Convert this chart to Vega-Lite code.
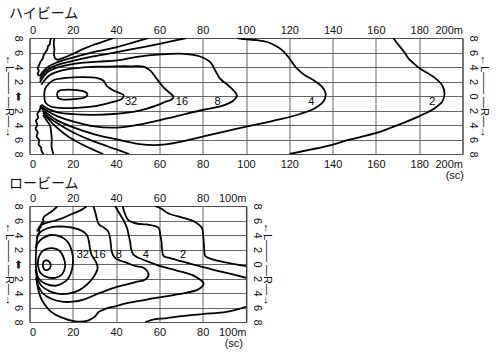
{
"$schema": "https://vega.github.io/schema/vega-lite/v6.json",
"padding": {"left": 2.5, "top": 6, "right": 0, "bottom": 0},
"background": "white",
"spacing": -5,
"config": {
 "font": "Liberation Sans",
 "view": {"stroke": "#222", "strokeWidth": 1},
 "axis": {"labelFont": "Liberation Sans", "labelFontSize": 11, "labelColor": "#111", "titleFont": "Liberation Sans", "titleFontSize": 11, "titleFontWeight": "normal", "titleColor": "#111", "ticks": false, "domain": false, "gridColor": "#555", "gridOpacity": 1, "gridWidth": 0.9},
 "title": {"font": "Noto Sans CJK JP", "fontSize": 14, "fontWeight": "normal", "anchor": "start", "frame": "group", "color": "#111"}
},
"datasets": {
"hi": [
{"c":"A","i":0,"x":11.5,"y":8},{"c":"A","i":1,"x":11.2,"y":7.2},{"c":"A","i":2,"x":11.5,"y":6.4},{"c":"A","i":3,"x":11.3,"y":5.8},{"c":"A","i":4,"x":11.8,"y":5.2},{"c":"A","i":5,"x":13,"y":5.0},{"c":"A","i":6,"x":16,"y":5.3},{"c":"A","i":7,"x":20,"y":5.8},{"c":"A","i":8,"x":25,"y":6.5},{"c":"A","i":9,"x":30,"y":7.1},{"c":"A","i":10,"x":35,"y":7.6},{"c":"A","i":11,"x":39,"y":8},
{"c":"B","i":0,"x":10,"y":8},{"c":"B","i":1,"x":9.6,"y":7.6},{"c":"B","i":2,"x":9.3,"y":7.1},{"c":"B","i":3,"x":8.6,"y":6.9},{"c":"B","i":4,"x":8.2,"y":6.4},{"c":"B","i":5,"x":7.5,"y":6.1},{"c":"B","i":6,"x":6.5,"y":5.6},{"c":"B","i":7,"x":6.0,"y":5.1},{"c":"B","i":8,"x":5.0,"y":4.7},{"c":"B","i":9,"x":4.4,"y":4.2},{"c":"B","i":10,"x":3.7,"y":3.9},{"c":"B","i":11,"x":4.3,"y":3.5},{"c":"B","i":12,"x":3.8,"y":3.1},{"c":"B","i":13,"x":4.6,"y":2.8},{"c":"B","i":14,"x":5.8,"y":3.2},{"c":"B","i":15,"x":8,"y":3.9},{"c":"B","i":16,"x":12,"y":4.55},{"c":"B","i":17,"x":20,"y":5.3},{"c":"B","i":18,"x":30,"y":6.1},{"c":"B","i":19,"x":40.4,"y":6.74},{"c":"B","i":20,"x":48,"y":7.4},{"c":"B","i":21,"x":55,"y":8},
{"c":"C","i":0,"x":4.8,"y":2.3},{"c":"C","i":1,"x":6,"y":2.9},{"c":"C","i":2,"x":8,"y":3.55},{"c":"C","i":3,"x":12,"y":4.2},{"c":"C","i":4,"x":20,"y":4.85},{"c":"C","i":5,"x":30,"y":5.5},{"c":"C","i":6,"x":40.4,"y":6.05},{"c":"C","i":7,"x":50,"y":6.6},{"c":"C","i":8,"x":60,"y":7.2},{"c":"C","i":9,"x":72.5,"y":8},
{"c":"c8","i":0,"x":4.8,"y":1.9},{"c":"c8","i":1,"x":6.5,"y":2.7},{"c":"c8","i":2,"x":8.5,"y":3.35},{"c":"c8","i":3,"x":12,"y":3.85},{"c":"c8","i":4,"x":18,"y":4.3},{"c":"c8","i":5,"x":25,"y":4.6},{"c":"c8","i":6,"x":32,"y":4.75},{"c":"c8","i":7,"x":40.4,"y":4.9},{"c":"c8","i":8,"x":49.6,"y":5.4},{"c":"c8","i":9,"x":60.4,"y":5.73},{"c":"c8","i":10,"x":71.2,"y":5.82},{"c":"c8","i":11,"x":78.8,"y":5.45},{"c":"c8","i":12,"x":83.5,"y":4.67},{"c":"c8","i":13,"x":85.8,"y":3.52},{"c":"c8","i":14,"x":88.1,"y":2.37},{"c":"c8","i":15,"x":92.7,"y":1.22},{"c":"c8","i":16,"x":95.8,"y":0.07},{"c":"c8","i":17,"x":94.2,"y":-0.62},{"c":"c8","i":18,"x":89.6,"y":-1.3},{"c":"c8","i":19,"x":78.8,"y":-2.0},{"c":"c8","i":20,"x":63.5,"y":-3.1},{"c":"c8","i":21,"x":49.6,"y":-4.0},{"c":"c8","i":22,"x":40.4,"y":-4.35},{"c":"c8","i":23,"x":30,"y":-4.2},{"c":"c8","i":24,"x":20,"y":-3.5},{"c":"c8","i":25,"x":13,"y":-2.8},{"c":"c8","i":26,"x":9,"y":-2.2},{"c":"c8","i":27,"x":6,"y":-1.6},{"c":"c8","i":28,"x":4.8,"y":-1.3},
{"c":"c16","i":0,"x":5.5,"y":1.55},{"c":"c16","i":1,"x":7,"y":2.2},{"c":"c16","i":2,"x":9,"y":2.8},{"c":"c16","i":3,"x":12,"y":3.25},{"c":"c16","i":4,"x":18,"y":3.7},{"c":"c16","i":5,"x":25,"y":3.95},{"c":"c16","i":6,"x":32,"y":4.05},{"c":"c16","i":7,"x":40.4,"y":4.1},{"c":"c16","i":8,"x":47,"y":4.1},{"c":"c16","i":9,"x":52.7,"y":4.05},{"c":"c16","i":10,"x":55.8,"y":3.5},{"c":"c16","i":11,"x":58.8,"y":2.37},{"c":"c16","i":12,"x":61.9,"y":1.2},{"c":"c16","i":13,"x":64.5,"y":0.5},{"c":"c16","i":14,"x":66.5,"y":-0.1},{"c":"c16","i":15,"x":65.8,"y":-0.45},{"c":"c16","i":16,"x":62,"y":-0.9},{"c":"c16","i":17,"x":58.8,"y":-1.3},{"c":"c16","i":18,"x":49.6,"y":-2.1},{"c":"c16","i":19,"x":40.4,"y":-2.45},{"c":"c16","i":20,"x":30,"y":-2.6},{"c":"c16","i":21,"x":20,"y":-2.5},{"c":"c16","i":22,"x":13,"y":-2.25},{"c":"c16","i":23,"x":9,"y":-1.85},{"c":"c16","i":24,"x":6.5,"y":-1.4},{"c":"c16","i":25,"x":5.5,"y":-1.15},
{"c":"c32","i":0,"x":6.8,"y":0.1},{"c":"c32","i":1,"x":7.2,"y":1.0},{"c":"c32","i":2,"x":8.6,"y":1.6},{"c":"c32","i":3,"x":11.2,"y":2.2},{"c":"c32","i":4,"x":17,"y":2.5},{"c":"c32","i":5,"x":23.5,"y":2.6},{"c":"c32","i":6,"x":31,"y":2.5},{"c":"c32","i":7,"x":34.2,"y":2.1},{"c":"c32","i":8,"x":35.8,"y":1.35},{"c":"c32","i":9,"x":38.8,"y":0.75},{"c":"c32","i":10,"x":43.5,"y":0.07},{"c":"c32","i":11,"x":42.7,"y":-0.4},{"c":"c32","i":12,"x":38.1,"y":-0.85},{"c":"c32","i":13,"x":31.2,"y":-1.35},{"c":"c32","i":14,"x":23.5,"y":-1.6},{"c":"c32","i":15,"x":14.2,"y":-1.65},{"c":"c32","i":16,"x":9.8,"y":-1.45},{"c":"c32","i":17,"x":7.5,"y":-0.95},{"c":"c32","i":18,"x":6.8,"y":0.1},
{"c":"ov","i":0,"x":12.7,"y":0.3},{"c":"ov","i":1,"x":13.5,"y":0.7},{"c":"ov","i":2,"x":16,"y":0.85},{"c":"ov","i":3,"x":22,"y":0.8},{"c":"ov","i":4,"x":25.5,"y":0.6},{"c":"ov","i":5,"x":26.8,"y":0.2},{"c":"ov","i":6,"x":25.5,"y":-0.2},{"c":"ov","i":7,"x":22,"y":-0.4},{"c":"ov","i":8,"x":16,"y":-0.5},{"c":"ov","i":9,"x":13.3,"y":-0.3},{"c":"ov","i":10,"x":12.7,"y":0.3},
{"c":"c4","i":0,"x":96,"y":8},{"c":"c4","i":1,"x":100.6,"y":7.8},{"c":"c4","i":2,"x":105.2,"y":7.7},{"c":"c4","i":3,"x":109.8,"y":7.45},{"c":"c4","i":4,"x":114.5,"y":6.8},{"c":"c4","i":5,"x":117.5,"y":6.1},{"c":"c4","i":6,"x":120,"y":5.2},{"c":"c4","i":7,"x":122.9,"y":4.0},{"c":"c4","i":8,"x":126.8,"y":2.95},{"c":"c4","i":9,"x":131.4,"y":2.15},{"c":"c4","i":10,"x":135.2,"y":1.25},{"c":"c4","i":11,"x":136.8,"y":0.3},{"c":"c4","i":12,"x":135.7,"y":-0.8},{"c":"c4","i":13,"x":131.4,"y":-1.75},{"c":"c4","i":14,"x":125.2,"y":-2.45},{"c":"c4","i":15,"x":116,"y":-3.2},{"c":"c4","i":16,"x":106.8,"y":-3.8},{"c":"c4","i":17,"x":100.6,"y":-4.2},{"c":"c4","i":18,"x":90,"y":-4.9},{"c":"c4","i":19,"x":80,"y":-5.6},{"c":"c4","i":20,"x":70,"y":-6.3},{"c":"c4","i":21,"x":60,"y":-6.75},{"c":"c4","i":22,"x":50,"y":-6.6},{"c":"c4","i":23,"x":40.4,"y":-6.0},{"c":"c4","i":24,"x":30,"y":-5.3},{"c":"c4","i":25,"x":20,"y":-4.3},{"c":"c4","i":26,"x":13,"y":-3.4},{"c":"c4","i":27,"x":9,"y":-2.6},{"c":"c4","i":28,"x":6.5,"y":-1.95},{"c":"c4","i":29,"x":5.3,"y":-1.6},
{"c":"D","i":0,"x":6,"y":-2.0},{"c":"D","i":1,"x":8,"y":-2.7},{"c":"D","i":2,"x":12,"y":-3.6},{"c":"D","i":3,"x":20,"y":-5.0},{"c":"D","i":4,"x":30,"y":-6.3},{"c":"D","i":5,"x":40.4,"y":-7.4},{"c":"D","i":6,"x":46,"y":-8},
{"c":"E","i":0,"x":6.3,"y":-2.3},{"c":"E","i":1,"x":8.5,"y":-3.1},{"c":"E","i":2,"x":12,"y":-4.2},{"c":"E","i":3,"x":17,"y":-5.4},{"c":"E","i":4,"x":22,"y":-6.3},{"c":"E","i":5,"x":28,"y":-7.2},{"c":"E","i":6,"x":34,"y":-8},
{"c":"Fr","i":0,"x":6.2,"y":-2.6},{"c":"Fr","i":1,"x":8,"y":-3.4},{"c":"Fr","i":2,"x":9.5,"y":-4.1},{"c":"Fr","i":3,"x":10,"y":-5.0},{"c":"Fr","i":4,"x":10.3,"y":-6.0},{"c":"Fr","i":5,"x":10.2,"y":-7},{"c":"Fr","i":6,"x":11,"y":-8},
{"c":"Jl","i":0,"x":5.2,"y":-1.5},{"c":"Jl","i":1,"x":4.6,"y":-2.0},{"c":"Jl","i":2,"x":3.6,"y":-2.5},{"c":"Jl","i":3,"x":4.0,"y":-3.0},{"c":"Jl","i":4,"x":3.0,"y":-3.4},{"c":"Jl","i":5,"x":3.6,"y":-4.0},{"c":"Jl","i":6,"x":2.8,"y":-4.5},{"c":"Jl","i":7,"x":3.8,"y":-5.0},{"c":"Jl","i":8,"x":3.3,"y":-5.6},{"c":"Jl","i":9,"x":4.5,"y":-6.1},{"c":"Jl","i":10,"x":4.2,"y":-6.7},{"c":"Jl","i":11,"x":5.3,"y":-7.1},{"c":"Jl","i":12,"x":5.6,"y":-7.6},{"c":"Jl","i":13,"x":6.5,"y":-8},
{"c":"c2","i":0,"x":168,"y":8},{"c":"c2","i":1,"x":170,"y":7.2},{"c":"c2","i":2,"x":173,"y":6.1},{"c":"c2","i":3,"x":175,"y":5.2},{"c":"c2","i":4,"x":177.5,"y":4.5},{"c":"c2","i":5,"x":180.3,"y":3.8},{"c":"c2","i":6,"x":186.8,"y":2.6},{"c":"c2","i":7,"x":190.6,"y":1.5},{"c":"c2","i":8,"x":191.7,"y":0.3},{"c":"c2","i":9,"x":190.6,"y":-0.8},{"c":"c2","i":10,"x":186.8,"y":-1.75},{"c":"c2","i":11,"x":180.6,"y":-2.7},{"c":"c2","i":12,"x":169.8,"y":-4.05},{"c":"c2","i":13,"x":160.3,"y":-5.1},{"c":"c2","i":14,"x":146.8,"y":-6.1},{"c":"c2","i":15,"x":140.2,"y":-6.7},{"c":"c2","i":16,"x":129.8,"y":-7.4},{"c":"c2","i":17,"x":120,"y":-8}
],
"hiLab": [
{"t":"32","x":46.9,"y":-0.8},{"t":"16","x":70.4,"y":-0.8},{"t":"8","x":86.9,"y":-0.8},{"t":"4","x":130.2,"y":-0.8},{"t":"2","x":186,"y":-0.8}
],
"lo": [
{"c":"S","i":0,"x":6.5,"y":0.4},{"c":"S","i":1,"x":8,"y":0.5},{"c":"S","i":2,"x":9.4,"y":0.2},{"c":"S","i":3,"x":9.8,"y":-0.3},{"c":"S","i":4,"x":8.8,"y":-0.75},{"c":"S","i":5,"x":7,"y":-0.8},{"c":"S","i":6,"x":6.2,"y":-0.3},{"c":"S","i":7,"x":6.5,"y":0.4},
{"c":"L64","i":0,"x":4.2,"y":0.9},{"c":"L64","i":1,"x":5.8,"y":1.75},{"c":"L64","i":2,"x":8,"y":2.1},{"c":"L64","i":3,"x":10.4,"y":2.2},{"c":"L64","i":4,"x":13,"y":2.0},{"c":"L64","i":5,"x":14.5,"y":1.6},{"c":"L64","i":6,"x":15.8,"y":0.85},{"c":"L64","i":7,"x":16.5,"y":-0.3},{"c":"L64","i":8,"x":15,"y":-1.45},{"c":"L64","i":9,"x":11.9,"y":-1.9},{"c":"L64","i":10,"x":8.1,"y":-1.8},{"c":"L64","i":11,"x":5,"y":-1.2},{"c":"L64","i":12,"x":3.9,"y":0},{"c":"L64","i":13,"x":4.2,"y":0.9},
{"c":"L32","i":0,"x":3.3,"y":2.6},{"c":"L32","i":1,"x":5,"y":3.3},{"c":"L32","i":2,"x":7.3,"y":3.75},{"c":"L32","i":3,"x":10,"y":4.0},{"c":"L32","i":4,"x":13,"y":3.9},{"c":"L32","i":5,"x":16,"y":3.5},{"c":"L32","i":6,"x":18,"y":2.9},{"c":"L32","i":7,"x":19.2,"y":2.1},{"c":"L32","i":8,"x":20,"y":1.1},{"c":"L32","i":9,"x":20,"y":-0.1},{"c":"L32","i":10,"x":19.2,"y":-1.2},{"c":"L32","i":11,"x":17.6,"y":-2.1},{"c":"L32","i":12,"x":15,"y":-2.7},{"c":"L32","i":13,"x":11.9,"y":-3.0},{"c":"L32","i":14,"x":7.3,"y":-2.7},{"c":"L32","i":15,"x":4.2,"y":-2.0},{"c":"L32","i":16,"x":3.1,"y":-0.8},{"c":"L32","i":17,"x":2.9,"y":0.6},{"c":"L32","i":18,"x":3.0,"y":1.8},{"c":"L32","i":19,"x":3.3,"y":2.6},
{"c":"L16","i":0,"x":3.3,"y":3.6},{"c":"L16","i":1,"x":5,"y":4.4},{"c":"L16","i":2,"x":8,"y":4.9},{"c":"L16","i":3,"x":12,"y":5.15},{"c":"L16","i":4,"x":16,"y":5.15},{"c":"L16","i":5,"x":20,"y":5.0},{"c":"L16","i":6,"x":24,"y":4.6},{"c":"L16","i":7,"x":26.5,"y":4.0},{"c":"L16","i":8,"x":27.5,"y":3.0},{"c":"L16","i":9,"x":28,"y":2.0},{"c":"L16","i":10,"x":28.8,"y":1.2},{"c":"L16","i":11,"x":30.5,"y":0.4},{"c":"L16","i":12,"x":31.5,"y":-0.5},{"c":"L16","i":13,"x":30,"y":-1.6},{"c":"L16","i":14,"x":27,"y":-2.7},{"c":"L16","i":15,"x":23,"y":-3.6},{"c":"L16","i":16,"x":18,"y":-4.1},{"c":"L16","i":17,"x":13,"y":-4.1},{"c":"L16","i":18,"x":9,"y":-3.7},{"c":"L16","i":19,"x":5.5,"y":-3.0},{"c":"L16","i":20,"x":3.6,"y":-2.0},{"c":"L16","i":21,"x":2.8,"y":-0.8},
{"c":"L8a","i":0,"x":3.5,"y":4.5},{"c":"L8a","i":1,"x":5,"y":5.3},{"c":"L8a","i":2,"x":8.1,"y":5.7},{"c":"L8a","i":3,"x":12,"y":6.0},{"c":"L8a","i":4,"x":15,"y":6.3},{"c":"L8a","i":5,"x":19.6,"y":6.9},{"c":"L8a","i":6,"x":24.2,"y":7.5},{"c":"L8a","i":7,"x":26.5,"y":8},
{"c":"L8","i":0,"x":29.5,"y":8},{"c":"L8","i":1,"x":30.5,"y":7.0},{"c":"L8","i":2,"x":31.3,"y":6.0},{"c":"L8","i":3,"x":32.3,"y":5.4},{"c":"L8","i":4,"x":34.5,"y":5.0},{"c":"L8","i":5,"x":36.3,"y":4.5},{"c":"L8","i":6,"x":37.2,"y":3.6},{"c":"L8","i":7,"x":37.6,"y":2.6},{"c":"L8","i":8,"x":38,"y":1.7},{"c":"L8","i":9,"x":39.3,"y":0.9},{"c":"L8","i":10,"x":42,"y":0.45},{"c":"L8","i":11,"x":45,"y":0.16},{"c":"L8","i":12,"x":49,"y":-0.3},{"c":"L8","i":13,"x":52.7,"y":-0.53},{"c":"L8","i":14,"x":55,"y":-1.45},{"c":"L8","i":15,"x":53.5,"y":-2.14},{"c":"L8","i":16,"x":49,"y":-2.5},{"c":"L8","i":17,"x":45,"y":-2.8},{"c":"L8","i":18,"x":40,"y":-3.2},{"c":"L8","i":19,"x":35,"y":-3.7},{"c":"L8","i":20,"x":30,"y":-4.3},{"c":"L8","i":21,"x":25,"y":-4.9},{"c":"L8","i":22,"x":20,"y":-5.2},{"c":"L8","i":23,"x":15,"y":-5.2},{"c":"L8","i":24,"x":10,"y":-4.8},{"c":"L8","i":25,"x":6,"y":-4.0},{"c":"L8","i":26,"x":4,"y":-3.0},{"c":"L8","i":27,"x":3,"y":-1.8},
{"c":"L4","i":0,"x":39.5,"y":8},{"c":"L4","i":1,"x":41.5,"y":7.0},{"c":"L4","i":2,"x":43.5,"y":6.0},{"c":"L4","i":3,"x":45,"y":5.0},{"c":"L4","i":4,"x":45.8,"y":4.0},{"c":"L4","i":5,"x":46.5,"y":3.0},{"c":"L4","i":6,"x":47,"y":2.0},{"c":"L4","i":7,"x":48,"y":1.3},{"c":"L4","i":8,"x":50,"y":0.9},{"c":"L4","i":9,"x":54.2,"y":0.4},{"c":"L4","i":10,"x":60.4,"y":-0.3},{"c":"L4","i":11,"x":68,"y":-0.9},{"c":"L4","i":12,"x":75.8,"y":-1.6},{"c":"L4","i":13,"x":80.4,"y":-2.7},{"c":"L4","i":14,"x":78,"y":-3.5},{"c":"L4","i":15,"x":68,"y":-4.2},{"c":"L4","i":16,"x":54.2,"y":-4.9},{"c":"L4","i":17,"x":45,"y":-5.4},{"c":"L4","i":18,"x":40,"y":-5.8},{"c":"L4","i":19,"x":35,"y":-6.2},{"c":"L4","i":20,"x":32,"y":-6.6},{"c":"L4","i":21,"x":30,"y":-7.3},{"c":"L4","i":22,"x":27,"y":-7.8},{"c":"L4","i":23,"x":21,"y":-7.9},{"c":"L4","i":24,"x":15,"y":-7.4},{"c":"L4","i":25,"x":10,"y":-6.6},{"c":"L4","i":26,"x":7,"y":-5.6},{"c":"L4","i":27,"x":5,"y":-4.5},{"c":"L4","i":28,"x":3.8,"y":-3.2},{"c":"L4","i":29,"x":3.2,"y":-2.0},
{"c":"L2","i":0,"x":43,"y":8},{"c":"L2","i":1,"x":44,"y":7.0},{"c":"L2","i":2,"x":45.5,"y":6.1},{"c":"L2","i":3,"x":48,"y":5.7},{"c":"L2","i":4,"x":50,"y":5.55},{"c":"L2","i":5,"x":54.2,"y":5.45},{"c":"L2","i":6,"x":59.6,"y":5.0},{"c":"L2","i":7,"x":60.4,"y":4.0},{"c":"L2","i":8,"x":61,"y":3.0},{"c":"L2","i":9,"x":61.2,"y":2.0},{"c":"L2","i":10,"x":62,"y":1.1},{"c":"L2","i":11,"x":65,"y":0.8},{"c":"L2","i":12,"x":68.1,"y":0.55},{"c":"L2","i":13,"x":75.8,"y":-0.1},{"c":"L2","i":14,"x":85,"y":-0.8},{"c":"L2","i":15,"x":92,"y":-1.3},{"c":"L2","i":16,"x":100,"y":-1.9},
{"c":"R1","i":0,"x":58,"y":8},{"c":"R1","i":1,"x":61,"y":7.6},{"c":"R1","i":2,"x":64,"y":7.0},{"c":"R1","i":3,"x":68.1,"y":6.6},{"c":"R1","i":4,"x":75.8,"y":5.9},{"c":"R1","i":5,"x":79.6,"y":5.0},{"c":"R1","i":6,"x":80.2,"y":4.0},{"c":"R1","i":7,"x":80.5,"y":3.0},{"c":"R1","i":8,"x":80.7,"y":2.0},{"c":"R1","i":9,"x":81.2,"y":1.1},{"c":"R1","i":10,"x":85,"y":0.6},{"c":"R1","i":11,"x":91.2,"y":0.2},{"c":"R1","i":12,"x":100,"y":-0.3},
{"c":"Ct","i":0,"x":13,"y":8},{"c":"Ct","i":1,"x":10.5,"y":7.3},{"c":"Ct","i":2,"x":8.5,"y":6.9},{"c":"Ct","i":3,"x":7,"y":6.6},{"c":"Ct","i":4,"x":6.2,"y":6.2},{"c":"Ct","i":5,"x":6.5,"y":5.8},{"c":"Ct","i":6,"x":5.5,"y":5.6},{"c":"Ct","i":7,"x":5.2,"y":5.1},{"c":"Ct","i":8,"x":4.6,"y":4.9},{"c":"Ct","i":9,"x":4.4,"y":4.3},{"c":"Ct","i":10,"x":3.8,"y":4.0},{"c":"Ct","i":11,"x":3.4,"y":3.2},{"c":"Ct","i":12,"x":3.0,"y":2.2},
{"c":"Bt","i":0,"x":53.5,"y":-8},{"c":"Bt","i":1,"x":58,"y":-7.6},{"c":"Bt","i":2,"x":62,"y":-7.5},{"c":"Bt","i":3,"x":70,"y":-7.2},{"c":"Bt","i":4,"x":80,"y":-6.9},{"c":"Bt","i":5,"x":91,"y":-6.6},{"c":"Bt","i":6,"x":100,"y":-5.9}
],
"loLab": [
{"t":"32","x":24.6,"y":1.2},{"t":"16","x":32.3,"y":1.2},{"t":"8","x":41.2,"y":1.2},{"t":"4","x":53.7,"y":1.2},{"t":"2","x":70.9,"y":1.2}
]
},
"vconcat": [
{
 "title": {"text": "ハイビーム", "dx": -20.5, "offset": 3},
 "width": 433, "height": 116,
 "resolve": {"axis": {"x": "independent", "y": "independent"}},
 "layer": [
  {"data": {"name": "hi"},
   "mark": {"type": "line", "color": "#000", "strokeWidth": 1.8, "clip": true, "interpolate": "catmull-rom"},
   "encoding": {
    "x": {"field": "x", "type": "quantitative", "scale": {"domain": [0, 200], "nice": false, "zero": false},
      "axis": {"orient": "bottom", "values": [0,20,40,60,80,100,120,140,160,180,200], "grid": true, "labelPadding": 4, "labelExpr": "datum.value == 200 ? '200m' : datum.label", "title": "(sc)", "titleX": 434, "titleY": 15, "titleAlign": "right", "titleBaseline": "top", "titleAnchor": "end"}},
    "y": {"field": "y", "type": "quantitative", "scale": {"domain": [-8, 8], "nice": false},
      "axis": {"orient": "left", "values": [-8,-6,-4,-2,0,2,4,6,8], "grid": true, "labelAngle": 90, "labelAlign": "center", "labelBaseline": "top", "labelPadding": 6, "labelExpr": "datum.value == 0 ? '⬅' : '' + abs(datum.value)", "title": "←L——        —R—→", "titleAngle": 90, "titleX": -21, "titleY": 58, "titleAlign": "center", "titleBaseline": "middle"}},
    "detail": {"field": "c"},
    "order": {"field": "i", "type": "quantitative"}
   }},
  {"data": {"name": "hiLab"},
   "mark": {"type": "text", "fontSize": 11, "font": "Liberation Sans", "color": "#000"},
   "encoding": {
    "x": {"field": "x", "type": "quantitative", "scale": {"domain": [0, 200], "nice": false, "zero": false},
      "axis": {"orient": "top", "values": [0,20,40,60,80,100,120,140,160,180,200], "grid": false, "labelPadding": 3, "labelExpr": "datum.value == 200 ? '200m' : datum.label", "title": null}},
    "y": {"field": "y", "type": "quantitative", "scale": {"domain": [-8, 8], "nice": false},
      "axis": {"orient": "right", "values": [-8,-6,-4,-2,0,2,4,6,8], "grid": false, "labelAngle": 90, "labelAlign": "center", "labelBaseline": "alphabetic", "labelPadding": 7, "labelExpr": "'' + abs(datum.value)", "title": "←L——        —R—→", "titleAngle": 90, "titleX": 20.5, "titleY": 58, "titleAlign": "center", "titleBaseline": "middle"}},
    "text": {"field": "t"}
   }}
 ]
},
{
 "title": {"text": "ロービーム", "dx": -20.5, "offset": 1},
 "width": 216.5, "height": 116,
 "resolve": {"axis": {"x": "independent", "y": "independent"}},
 "layer": [
  {"data": {"name": "lo"},
   "mark": {"type": "line", "color": "#000", "strokeWidth": 1.8, "clip": true, "interpolate": "catmull-rom"},
   "encoding": {
    "x": {"field": "x", "type": "quantitative", "scale": {"domain": [0, 100], "nice": false, "zero": false},
      "axis": {"orient": "bottom", "values": [0,20,40,60,80,100], "grid": true, "labelPadding": 4, "labelExpr": "datum.value == 100 ? '100m' : datum.label", "title": "(sc)", "titleX": 213, "titleY": 15, "titleAlign": "right", "titleBaseline": "top", "titleAnchor": "end"}},
    "y": {"field": "y", "type": "quantitative", "scale": {"domain": [-8, 8], "nice": false},
      "axis": {"orient": "left", "values": [-8,-6,-4,-2,0,2,4,6,8], "grid": true, "labelAngle": 90, "labelAlign": "center", "labelBaseline": "top", "labelPadding": 6, "labelExpr": "datum.value == 0 ? '⬅' : '' + abs(datum.value)", "title": "←L——        —R—→", "titleAngle": 90, "titleX": -21, "titleY": 58, "titleAlign": "center", "titleBaseline": "middle"}},
    "detail": {"field": "c"},
    "order": {"field": "i", "type": "quantitative"}
   }},
  {"data": {"name": "loLab"},
   "mark": {"type": "text", "fontSize": 11, "font": "Liberation Sans", "color": "#000"},
   "encoding": {
    "x": {"field": "x", "type": "quantitative", "scale": {"domain": [0, 100], "nice": false, "zero": false},
      "axis": {"orient": "top", "values": [0,20,40,60,80,100], "grid": false, "labelPadding": 3, "labelExpr": "datum.value == 100 ? '100m' : datum.label", "title": null}},
    "y": {"field": "y", "type": "quantitative", "scale": {"domain": [-8, 8], "nice": false},
      "axis": {"orient": "right", "values": [-8,-6,-4,-2,0,2,4,6,8], "grid": false, "labelAngle": 90, "labelAlign": "center", "labelBaseline": "alphabetic", "labelPadding": 7, "labelExpr": "'' + abs(datum.value)", "title": "←L——        —R—→", "titleAngle": 90, "titleX": 20.5, "titleY": 58, "titleAlign": "center", "titleBaseline": "middle"}},
    "text": {"field": "t"}
   }}
 ]
}
]
}
